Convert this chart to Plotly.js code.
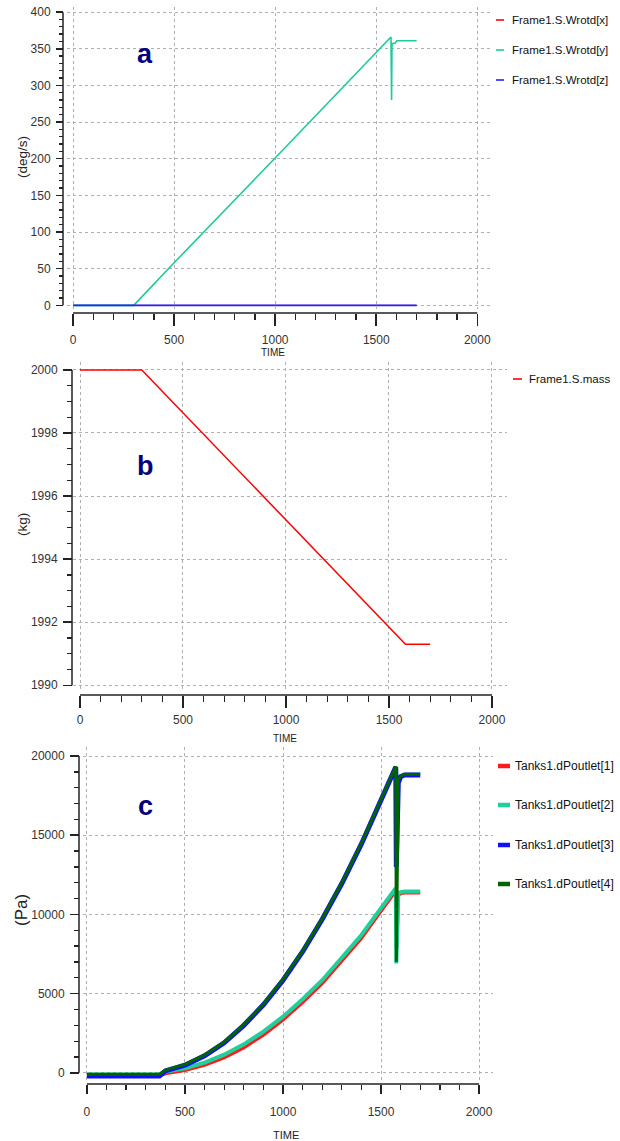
<!DOCTYPE html>
<html><head><meta charset="utf-8">
<script src="https://cdn.plot.ly/plotly-3.0.1.min.js"></script>
<style>html,body{margin:0;padding:0;background:#fff;} #chart{width:620px;height:1141px;}</style>
</head><body><div id="chart"></div>
<script>
// ---------- data ----------
// panel a: angular rates (deg/s)
const timeWrotdY = [0, 300, 500, 750, 1000, 1250, 1500, 1573, 1576, 1578, 1594, 1602, 1700];
const wrotdY     = [0, 0,   58,  129, 201,  273,  345,  366,  280,  357,  358,  361,  361];
const timeWrotdXZ = [0, 1700];
const wrotdX = [0, 0];
const wrotdZ = [0, 0];
const namesA = ['Frame1.S.Wrotd[x]', 'Frame1.S.Wrotd[y]', 'Frame1.S.Wrotd[z]'];
const colorsA = ['#ff0000', '#1fc99a', '#2222ff'];

// panel b: mass (kg)
const timeMass = [0, 300, 1580, 1700];
const mass     = [2000, 2000, 1991.3, 1991.3];
const nameB = 'Frame1.S.mass';
const colorB = '#ff0000';

// panel c: tank outlet pressure differences (Pa)
const timeTanks = [0, 370, 400, 500, 600, 700, 800, 900, 1000, 1100, 1200, 1300, 1400, 1500, 1575, 1578, 1582, 1588, 1600, 1620, 1700];
const dPoutlet1 = [-200, -200, -60, 150, 480, 950, 1580, 2380, 3330, 4430, 5630, 7020, 8470, 10200, 11450, 11000, 7900, 11200, 11300, 11350, 11350];
const dPoutlet2 = [-100, -100, 70, 290, 650, 1150, 1800, 2600, 3550, 4650, 5850, 7250, 8700, 10400, 11650, 6900, 9500, 11350, 11400, 11450, 11450];
const dPoutlet3 = [-200, -200, 120, 480, 1080, 1900, 3000, 4300, 5850, 7650, 9700, 11950, 14450, 17200, 19300, 13000, 15850, 18300, 18700, 18800, 18800];
const dPoutlet4 = [-80, -80, 180, 540, 1130, 1950, 3050, 4350, 5900, 7700, 9750, 12000, 14500, 17250, 19350, 7000, 12000, 18500, 18750, 18850, 18850];
const namesC = ['Tanks1.dPoutlet[1]', 'Tanks1.dPoutlet[2]', 'Tanks1.dPoutlet[3]', 'Tanks1.dPoutlet[4]'];
const colorsC = ['#ff1a1a', '#1fd09c', '#1010ff', '#006400'];

const panelLabels = ['a', 'b', 'c'];
const yTitles = ['(deg/s)', '(kg)', '(Pa)'];
const xTitle = 'TIME';

// ---------- layout helpers ----------
const W = 620, H = 1141;
const FONT = '"Liberation Sans", Arial, sans-serif';
const px = v => v / W;
const py = v => 1 - v / H;
const xd = (l, r) => [l / W, r / W];
const yd = (t, b) => [1 - b / H, 1 - t / H];

function xAx(domain, range, linePx, extra) {
  return Object.assign({
    domain, range, anchor: 'free', position: py(linePx),
    showline: false, zeroline: false,
    showgrid: true, gridcolor: '#b0b0b0', griddash: 'dot', gridwidth: 1,
    ticks: 'outside', ticklen: 12, tickwidth: 1.5, tickcolor: '#222',
    tick0: 0, dtick: 500, tickformat: 'd',
    minor: {dtick: 100, ticklen: 6, tickwidth: 1.3, tickcolor: '#222', ticks: 'outside', showgrid: false},
    tickfont: {family: FONT, size: 12, color: '#333'},
    fixedrange: true
  }, extra || {});
}
function yAx(domain, range, linePx, dtick, mdtick, ticklen, extra) {
  return Object.assign({
    domain, range, anchor: 'free', position: px(linePx),
    showline: false, zeroline: false,
    showgrid: true, gridcolor: '#b0b0b0', griddash: 'dot', gridwidth: 1,
    ticks: 'outside', ticklen: ticklen, tickwidth: 1.5, tickcolor: '#222',
    dtick: dtick, tickformat: 'd',
    minor: {dtick: mdtick, ticklen: Math.round(ticklen * 0.55), tickwidth: 1.3, tickcolor: '#222', ticks: 'outside', showgrid: false},
    tickfont: {family: FONT, size: 12, color: '#333'},
    fixedrange: true
  }, extra || {});
}
function axisLines(xa, ya, xLinePx, yLinePx, x0, x1, y0, y1) {
  return [
    {type: 'line', xref: xa, yref: 'paper', x0: x0, x1: x1, y0: py(xLinePx), y1: py(xLinePx), line: {color: '#222', width: 1.5}},
    {type: 'line', xref: 'paper', yref: ya, x0: px(yLinePx), x1: px(yLinePx), y0: y0, y1: y1, line: {color: '#222', width: 1.5}}
  ];
}
function legendItems(names, colors, rowsY, sx0, sx1, tx, thick, fs) {
  const shapes = [], ann = [];
  names.forEach((n, i) => {
    shapes.push({type: 'line', xref: 'paper', yref: 'paper', x0: px(sx0), x1: px(sx1), y0: py(rowsY[i]), y1: py(rowsY[i]),
      line: {color: colors[i], width: thick}});
    ann.push({text: n, xref: 'paper', yref: 'paper', x: px(tx), y: py(rowsY[i]), xanchor: 'left', yanchor: 'middle',
      showarrow: false, font: {family: FONT, size: fs, color: '#111'}});
  });
  return {shapes, ann};
}
function txt(text, xPx, yPx, font, extra) {
  return Object.assign({text, x: px(xPx), y: py(yPx), xref: 'paper', yref: 'paper', xanchor: 'center', yanchor: 'middle',
    showarrow: false, font}, extra || {});
}

// ---------- traces ----------
const traces = [
  {x: timeWrotdXZ, y: wrotdX, name: namesA[0], mode: 'lines', line: {color: colorsA[0], width: 1}, xaxis: 'x', yaxis: 'y'},
  {x: timeWrotdY, y: wrotdY, name: namesA[1], mode: 'lines', line: {color: colorsA[1], width: 1.6}, xaxis: 'x', yaxis: 'y'},
  {x: timeWrotdXZ, y: wrotdZ, name: namesA[2], mode: 'lines', line: {color: colorsA[2], width: 1.8}, xaxis: 'x', yaxis: 'y'},
  {x: timeMass, y: mass, name: nameB, mode: 'lines', line: {color: colorB, width: 1.5}, xaxis: 'x2', yaxis: 'y2'},
  {x: timeTanks, y: dPoutlet1, name: namesC[0], mode: 'lines', line: {color: colorsC[0], width: 3}, xaxis: 'x3', yaxis: 'y3'},
  {x: timeTanks, y: dPoutlet2, name: namesC[1], mode: 'lines', line: {color: colorsC[1], width: 4}, xaxis: 'x3', yaxis: 'y3'},
  {x: timeTanks, y: dPoutlet3, name: namesC[2], mode: 'lines', line: {color: colorsC[2], width: 5}, xaxis: 'x3', yaxis: 'y3'},
  {x: timeTanks, y: dPoutlet4, name: namesC[3], mode: 'lines', line: {color: colorsC[3], width: 3}, xaxis: 'x3', yaxis: 'y3'}
];

// ---------- layout ----------
const legA = legendItems(namesA, colorsA, [20, 50, 80], 496, 504, 510, 1.6, 11.5);
const legB = legendItems([nameB], [colorB], [379], 513, 522, 527, 1.6, 11.5);
const legC = legendItems(namesC, colorsC, [766, 805, 845, 884], 498, 510, 513, 4.5, 12);

const labelFont = {family: FONT, size: 27, color: '#000080', weight: 'bold'};
const titleFont = {family: FONT, size: 13, color: '#222'};
const tf = s => Object.assign({}, titleFont, {size: s});

const annotations = [
  txt('<b>' + panelLabels[0] + '</b>', 145, 54, labelFont),
  txt('<b>' + panelLabels[1] + '</b>', 145, 466, labelFont),
  txt('<b>' + panelLabels[2] + '</b>', 145, 806, labelFont),
  txt(yTitles[0], 22, 157, tf(13.5), {textangle: -90}),
  txt(yTitles[1], 22, 525, tf(13.5), {textangle: -90}),
  txt(yTitles[2], 22, 910, tf(17), {textangle: -90}),
  txt(xTitle, 273, 352, tf(10)),
  txt(xTitle, 285, 738, tf(10)),
  txt(xTitle, 286, 1135, tf(11))
].concat(legA.ann, legB.ann, legC.ann);

const shapes = []
  .concat(axisLines('x', 'y', 313, 63, 0, 2000, 0, 400))
  .concat(axisLines('x2', 'y2', 695, 72, 0, 2000, 1990, 2000))
  .concat(axisLines('x3', 'y3', 1084, 79, 0, 2000, 0, 20000))
  .concat(legA.shapes, legB.shapes, legC.shapes);

const layout = {
  width: W, height: H, autosize: false,
  margin: {l: 0, r: 0, t: 0, b: 0, pad: 0},
  paper_bgcolor: '#ffffff', plot_bgcolor: 'rgba(0,0,0,0)',
  showlegend: false,
  font: {family: FONT, color: '#222'},
  // panel a : 0 -> 73px, 2000 -> 477px ; 0 -> 305px, 400 -> 12px
  xaxis: xAx(xd(67, 490), [-30, 2063], 313, {ticklabelstandoff: 4}),
  yaxis: yAx(yd(7, 309), [-5, 407], 63, 50, 10, 7, {ticklabelstandoff: 3}),
  // panel b : 0 -> 80px, 2000 -> 492px ; 2000 -> 370px, 1990 -> 685px
  xaxis2: xAx(xd(73, 507), [-34, 2073], 695, {ticklabelstandoff: 2}),
  yaxis2: yAx(yd(362, 690), [1989.85, 2000.25], 72, 2, 0.5, 9, {ticklabelstandoff: 3}),
  // panel c : 0 -> 87px, 2000 -> 479px ; 20000 -> 756px, 0 -> 1073px
  xaxis3: xAx(xd(83, 493), [-20, 2071], 1084, {ticklen: 9, minor: {dtick: 100, ticklen: 5, tickwidth: 1.3, tickcolor: '#222', ticks: 'outside', showgrid: false}, ticklabelstandoff: 8}),
  yaxis3: yAx(yd(747, 1080), [-450, 20570], 79, 5000, 1000, 9, {ticklabelstandoff: 3}),
  shapes: shapes,
  annotations: annotations
};

Plotly.newPlot('chart', traces, layout, {staticPlot: true, displayModeBar: false});
</script></body></html>
